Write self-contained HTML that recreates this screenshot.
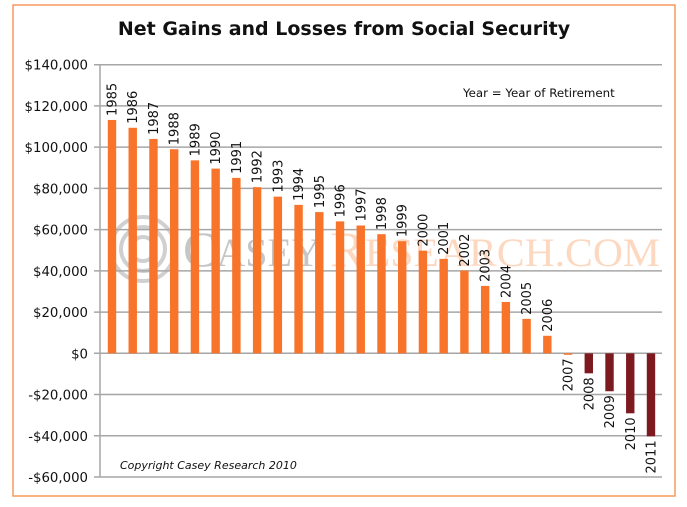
<!DOCTYPE html>
<html><head><meta charset="utf-8"><style>
body{margin:0;background:#fff;}
svg{display:block;font-family:"DejaVu Sans","Liberation Sans",sans-serif;}
</style></head><body>
<svg id="c" width="687" height="507">
<rect x="13" y="5" width="662" height="491" fill="#fff" stroke="#f79a5e" stroke-width="1.5"/>
<text x="344" y="35" text-anchor="middle" font-size="19" font-weight="bold" fill="#111">Net Gains and Losses from Social Security</text>
<g id="grid"></g>
<g opacity="0.55">
<circle cx="143" cy="249" r="32" fill="none" stroke="#aaa" stroke-width="4"/>
<circle cx="143" cy="249" r="22" fill="none" stroke="#aaa" stroke-width="4"/>
<circle cx="143" cy="249" r="12" fill="none" stroke="#aaa" stroke-width="4"/>
<text x="183" y="266" font-family="Liberation Serif,serif" font-size="50" fill="#999">C<tspan font-size="40">ASEY</tspan></text>
<text x="330" y="266" font-family="Liberation Serif,serif" font-size="50" fill="#fdb98e" textLength="330" lengthAdjust="spacingAndGlyphs">R<tspan font-size="40">ESEARCH.COM</tspan></text>
</g>
<g id="bars"></g>
<text x="463" y="97" font-size="11.8" fill="#111">Year = Year of Retirement</text>
<text x="120" y="469" font-size="11" font-style="italic" fill="#111">Copyright Casey Research 2010</text>
</svg>
<script>
const years=[1985,1986,1987,1988,1989,1990,1991,1992,1993,1994,1995,1996,1997,1998,1999,2000,2001,2002,2003,2004,2005,2006,2007,2008,2009,2010,2011];
const values=[113200,109400,104000,99000,93600,89600,85100,80600,76000,72000,68500,64000,62000,57800,54400,49800,45800,40100,32700,24900,16700,8500,-500,-9700,-18400,-29100,-40300];
const ticks=[140000,120000,100000,80000,60000,40000,20000,0,-20000,-40000,-60000];
const tickLabels=["$140,000","$120,000","$100,000","$80,000","$60,000","$40,000","$20,000","$0","-$20,000","-$40,000","-$60,000"];
const NS="http://www.w3.org/2000/svg";
const x0=100,x1=662,yTop=64.7,yBot=477;
const yMin=-60000,yMax=140000;
function y(v){return yTop+(yMax-v)/(yMax-yMin)*(yBot-yTop);}
function xc(i){return 112+i*20.73;}
function mk(t,a,p){const e=document.createElementNS(NS,t);for(const k in a)e.setAttribute(k,a[k]);p.appendChild(e);return e;}
const g=document.getElementById('grid');
ticks.forEach((t,i)=>{
  const l=mk('line',{x1:x0-6,x2:x1,y1:y(t),y2:y(t),stroke:'#a6a6a6','stroke-width':1.5},g);
  
  
  const tx=mk('text',{x:88,y:y(t)+5,'text-anchor':'end','font-size':13.3,fill:'#111'},g);
  tx.textContent=tickLabels[i];
  
  
});
const ax=mk('line',{x1:x0,x2:x0,y1:yTop,y2:yBot,stroke:'#a6a6a6','stroke-width':1.5},g);


const b=document.getElementById('bars');
years.forEach((yr,i)=>{
  const v=values[i],cx=xc(i);
  const top=Math.min(y(v),y(0)),h=Math.max(Math.abs(y(v)-y(0)),1.5);
  const r=mk('rect',{x:cx-4.2,y:top,width:8.4,height:h,fill:v>-5000?'#f7742a':'#7d1a1f'},b);
  
  
  let tx;
  if(v>=0){tx=mk('text',{transform:`translate(${cx+4.5},${y(v)-4}) rotate(-90)`,'font-size':13,fill:'#111'},b);}
  else{tx=mk('text',{transform:`translate(${cx+4.5},${y(v)+4}) rotate(-90)`,'font-size':13,fill:'#111','text-anchor':'end'},b);}
  tx.textContent=yr;
  
  
});
</script>
</body></html>
